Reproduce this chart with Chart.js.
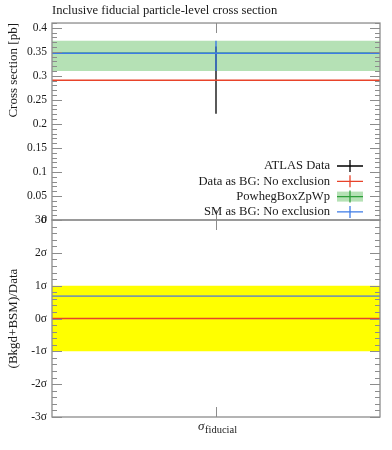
<!DOCTYPE html>
<html>
<head>
<meta charset="utf-8">
<script src="https://cdn.jsdelivr.net/npm/chart.js@4.4.0/dist/chart.umd.min.js"></script>
<style>
  html, body { margin: 0; padding: 0; background: #fff; }
  #wrap { position: relative; width: 392px; height: 450px; }
  #top { position: absolute; left: 0; top: 0; }
  #bot { position: absolute; left: 0; top: 205px; }
</style>
</head>
<body>
<div id="wrap">
  <canvas id="top" width="392" height="232"></canvas>
  <canvas id="bot" width="392" height="245"></canvas>
</div>
<script>
// values (one fiducial bin)
const xEdges = [0, 1];
const binCentre = [0.5];
const dataVal = [0.291];
const dataErr = [0.070];
const smVal = [0.347];
const smLo = [0.310];
const smHi = [0.373];
const powhegVal = [0.347];
const powhegLo = [0.310];
const powhegHi = [0.373];
const ratioBand = [-1, 1];
const ratioData = [0];
const ratioSM = [0.68];
const topTicks = [0, 0.05, 0.1, 0.15, 0.2, 0.25, 0.3, 0.35, 0.4];
const sigmaTicks = [-3, -2, -1, 0, 1, 2, 3];
const legendNames = ['ATLAS Data', 'Data as BG: No exclusion', 'PowhegBoxZpWp', 'SM as BG: No exclusion'];

const FONT = "'Liberation Serif', 'DejaVu Serif', serif";
const TXT = '#1a1a1a';
const FRAME = '#8c8c8c';
const RED = '#e8432a';
const BLUE = '#3d7be6';
const GREEN = '#2e9e3a';
const GREEN_FILL = 'rgba(120,200,120,0.55)';
const GREY = '#7f9c9c';

// horizontal line across the bin
function hline(v, color, w, order, extra) {
  return Object.assign({
    data: xEdges.map(x => ({ x: x, y: v })),
    showLine: true, borderColor: color, borderWidth: w,
    pointRadius: 0, fill: false, order: order
  }, extra || {});
}
// vertical error bar at the bin centre
function vline(lo, hi, color, w, order) {
  return {
    data: [{ x: binCentre[0], y: lo }, { x: binCentre[0], y: hi }],
    showLine: true, borderColor: color, borderWidth: w,
    pointRadius: 0, fill: false, order: order
  };
}

// frame + inward ticks, rivet style
const framePlugin = {
  id: 'frame',
  afterDatasetsDraw(chart) {
    const { ctx, chartArea: a } = chart;
    const ys = chart.scales.y, xs = chart.scales.x;
    ctx.save();
    ctx.strokeStyle = FRAME;
    ctx.lineWidth = 1;
    const major = ys.ticks.map(t => t.value);
    const minorStep = (major[1] - major[0]) / 5;
    const i0 = Math.ceil(ys.min / minorStep - 1e-6), i1 = Math.floor(ys.max / minorStep + 1e-6);
    ctx.beginPath();
    for (let i = i0; i <= i1; i++) {
      const py = Math.round(ys.getPixelForValue(i * minorStep)) + 0.5;
      const len = (i % 5 === 0) ? 10 : 5;
      ctx.moveTo(a.left, py); ctx.lineTo(a.left + len, py);
      ctx.moveTo(a.right, py); ctx.lineTo(a.right - len, py);
    }
    const px = Math.round(xs.getPixelForValue(binCentre[0])) + 0.5;
    ctx.moveTo(px, a.top); ctx.lineTo(px, a.top + 10);
    ctx.moveTo(px, a.bottom); ctx.lineTo(px, a.bottom - 10);
    ctx.stroke();
    ctx.lineWidth = 1.3;
    ctx.strokeRect(a.left, a.top, a.right - a.left, a.bottom - a.top);
    ctx.restore();
  }
};

const legendPlugin = {
  id: 'rivetLegend',
  afterDraw(chart) {
    const ctx = chart.ctx;
    const colors = ['#000000', RED, GREEN, BLUE];
    const xr = 330, x0 = 337, x1 = 363, y0 = 166, dy = 15.3;
    ctx.save();
    ctx.font = '12.6px ' + FONT;
    ctx.textAlign = 'right';
    ctx.textBaseline = 'middle';
    legendNames.forEach((name, i) => {
      const y = y0 + i * dy;
      ctx.fillStyle = TXT;
      ctx.fillText(name, xr, y);
      if (i === 2) {
        ctx.fillStyle = GREEN_FILL;
        ctx.fillRect(x0, y - 5, x1 - x0, 10);
      }
      ctx.strokeStyle = colors[i];
      ctx.lineWidth = 1.3;
      ctx.beginPath();
      ctx.moveTo(x0, y); ctx.lineTo(x1, y);
      ctx.moveTo((x0 + x1) / 2, y - 6); ctx.lineTo((x0 + x1) / 2, y + 6);
      ctx.stroke();
    });
    ctx.restore();
  }
};

const xlabelPlugin = {
  id: 'xlabel',
  afterDraw(chart) {
    const ctx = chart.ctx;
    const px = chart.scales.x.getPixelForValue(binCentre[0]);
    const y = chart.chartArea.bottom + 13;
    ctx.save();
    ctx.fillStyle = TXT;
    ctx.textBaseline = 'alphabetic';
    ctx.textAlign = 'left';
    ctx.font = 'italic 13px ' + FONT;
    ctx.fillText('\u03c3', px - 18, y);
    ctx.font = '10.5px ' + FONT;
    ctx.fillText('fiducial', px - 11, y + 2.5);
    ctx.restore();
  }
};

function yScale(min, max, ticks, fmt, title, align) {
  return {
    min: min, max: max,
    afterBuildTicks: s => { s.ticks = ticks.map(v => ({ value: v })); },
    afterFit: s => { s.width = 52; },
    grid: { display: false, drawTicks: false },
    border: { display: false },
    ticks: { autoSkip: false, padding: 5, color: TXT, font: { family: FONT, size: 11.5 }, callback: fmt },
    title: { display: true, text: title, align: align, color: TXT, font: { family: FONT, size: 13 }, padding: { top: 6, bottom: 0 } }
  };
}

const common = {
  responsive: false,
  animation: false,
  plugins: { legend: { display: false }, tooltip: { enabled: false } }
};

// upper panel: cross section
new Chart(document.getElementById('top'), {
  type: 'scatter',
  data: {
    datasets: [
      hline(powhegHi[0], 'rgba(0,0,0,0)', 0, 6, { fill: '+1', backgroundColor: GREEN_FILL }),
      hline(powhegLo[0], 'rgba(0,0,0,0)', 0, 6),
      vline(dataVal[0] - dataErr[0], dataVal[0] + dataErr[0], '#000000', 1.3, 5),
      hline(dataVal[0], RED, 1.6, 4),
      hline(powhegVal[0], GREEN, 1.4, 3),
      vline(smLo[0], smHi[0], BLUE, 1.4, 2),
      hline(smVal[0], BLUE, 1.4, 1)
    ]
  },
  options: Object.assign({}, common, {
    layout: { padding: { left: 0, right: 12, top: 0, bottom: 12 } },
    plugins: Object.assign({}, common.plugins, {
      title: {
        display: true, text: 'Inclusive fiducial particle-level cross section',
        align: 'start', fullSize: false, color: TXT,
        font: { family: FONT, size: 12.6, weight: 'normal', lineHeight: 1.2 },
        padding: { top: 3, bottom: 4.9 }
      }
    }),
    scales: {
      x: { type: 'linear', min: 0, max: 1, display: false },
      y: yScale(0, 0.41, topTicks, v => String(+v.toFixed(2)), 'Cross section [pb]', 'end')
    }
  }),
  plugins: [framePlugin, legendPlugin]
});

// lower panel: significance
new Chart(document.getElementById('bot'), {
  type: 'scatter',
  data: {
    datasets: [
      hline(ratioBand[1], 'rgba(0,0,0,0)', 0, 5, { fill: '+1', backgroundColor: '#ffff00' }),
      hline(ratioBand[0], 'rgba(0,0,0,0)', 0, 5),
      hline(ratioSM[0], GREY, 1.6, 2),
      hline(ratioData[0], RED, 1.6, 1)
    ]
  },
  options: Object.assign({}, common, {
    layout: { padding: { left: 0, right: 12, top: 15, bottom: 33 } },
    scales: {
      x: { type: 'linear', min: 0, max: 1, display: false },
      y: yScale(-3, 3, sigmaTicks, v => v + '\u03c3', '(Bkgd+BSM)/Data', 'center')
    }
  }),
  plugins: [framePlugin, xlabelPlugin]
});
</script>
</body>
</html>
